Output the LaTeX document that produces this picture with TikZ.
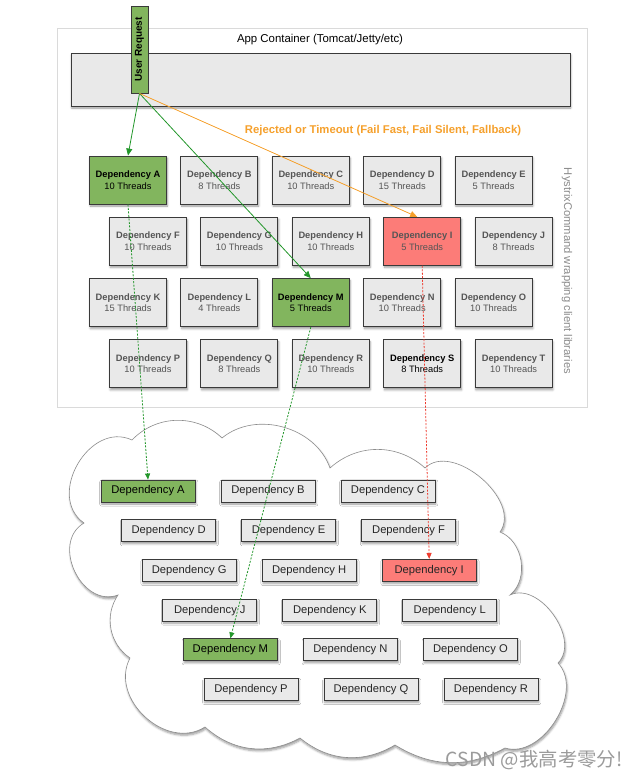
\documentclass[tikz,border=0pt]{standalone}
\usepackage{fontspec}
\setmainfont{Liberation Sans}
\newfontfamily\cjkfont{Noto Sans CJK SC}
\usetikzlibrary{arrows.meta, shadows.blur}
\definecolor{hGreen}{HTML}{82B55E}
\definecolor{hRed}{HTML}{FC7C78}
\definecolor{hGray}{HTML}{E9E9E9}
\definecolor{hBorder}{HTML}{3A3A3A}
\definecolor{hText}{HTML}{555555}
\definecolor{hLine}{HTML}{22962A}
\definecolor{hOrange}{HTML}{F5A02C}
\definecolor{hDash}{HTML}{EE3B2E}
\definecolor{hFrame}{HTML}{DADADA}
\definecolor{hSide}{HTML}{8A8A8A}
\definecolor{hMark}{HTML}{9B9B9B}

\tikzset{
  soft/.style={blur shadow={shadow xshift=0.8pt, shadow yshift=-2pt, shadow blur steps=5}},
  pool/.style={draw=hBorder, line width=0.9pt, fill=hGray, minimum width=77pt, minimum height=48pt,
    inner sep=0pt, align=center, text=hText, font=\fontsize{9.3}{11.5}\selectfont, soft},
  dep/.style={draw=hBorder, line width=0.9pt, fill=hGray, minimum width=94pt, minimum height=22pt,
    inner sep=0pt, text=black!85, font=\fontsize{11.2}{13}\selectfont, soft},
  hot/.style={fill=hGreen, text=black},
  stA/.style=hot, stM/.style=hot, stI/.style={fill=hRed}, stS/.style={text=black},
  clA/.style=hot, clM/.style=hot, clI/.style={fill=hRed},
  flow/.style={-{Triangle[length=7pt,width=6pt]}, hLine, line width=0.8pt},
  drop/.style={-{Triangle[length=6pt,width=5pt]}, hLine, line width=0.8pt, dashed, dash pattern=on 2pt off 1.5pt}
}

\begin{document}
\begin{tikzpicture}[x=1pt, y=-1pt]
    \useasboundingbox (0,0) rectangle (640,779);
    \node[draw=hFrame, line width=0.8pt, minimum width=530pt, minimum height=379pt] (app) at (322,217.5) {};
    \node[font=\fontsize{11.4}{13}\selectfont] (apptitle) at (320,40) {App Container (Tomcat/Jetty/etc)};
    \node[draw=hBorder, line width=0.9pt, fill=hGray, minimum width=499pt, minimum height=53pt, soft] (bar) at (320.5,79.5) {};
    \node[draw=hBorder, line width=0.9pt, fill=hGreen, rotate=90, minimum width=87pt, minimum height=17pt,
      inner sep=0pt, font=\bfseries\fontsize{10}{11}\selectfont] (req) at (139.5,49.5) {User Request};
    \node[text=hOrange, font=\bfseries\fontsize{11.3}{13}\selectfont] (reject) at (383,131) {Rejected or Timeout (Fail Fast, Fail Silent, Fallback)};
    \node[rotate=-90, text=hSide, font=\fontsize{11.2}{13}\selectfont] (side) at (567,271) {HystrixCommand wrapping client libraries};
    \foreach \l/\n [count=\i from 0] in {A/10,B/8,C/10,D/15,E/5,F/10,G/10,H/10,I/5,J/8,K/15,L/4,M/5,N/10,O/10,P/10,Q/8,R/10,S/8,T/10} {
      \pgfmathtruncatemacro\rw{\i/5}
      \pgfmathtruncatemacro\cl{mod(\i,5)}
      \pgfmathsetmacro\sh{mod(\rw,2)*20}
      \node[pool, st\l/.try] (t\l) at (128+\cl*91.4+\sh, 180+\rw*61.3) {\textbf{Dependency \l}\\\n\ Threads};
    }
    \draw[draw=black!45, line width=0.6pt, fill=white, soft]
      (84,523) to[bend left=85, looseness=1.25] (132,440) to[bend left=45] (222,438) to[bend left=55] (330,468)
      to[bend left=42] (425,468) to[bend left=85] (500,532) to[bend left=60] (510,595)
      to[bend left=80] (558,663) to[bend left=75] (505,748) to[bend left=30] (395,745)
      to[bend left=35] (300,738) to[bend left=35] (205,727) to[bend left=75, looseness=1.15] (130,658)
      to[bend left=45] (118,595) to[bend left=85, looseness=1.25] (84,523) -- cycle;
    \foreach \l [count=\i from 0] in {A,...,R} {
      \pgfmathtruncatemacro\rw{\i/3}
      \pgfmathtruncatemacro\cl{mod(\i,3)}
      \node[dep, cl\l/.try] (c\l) at (148+\cl*120+\rw*20.6, 491+\rw*39.7) {Dependency \l};
    }
    \draw[flow] (req.west) -- (tA.north);
    \draw[flow] (req.west) -- (tM.north);
    \draw[flow, hOrange] (req.west) -- ([xshift=-5pt]tI.north);
    \draw[drop] (tA.south) -- (cA.north);
    \draw[drop] (tM.south) -- (cM.north);
    \draw[drop, hDash] (tI.south) -- (cI.north);
    \node[anchor=east, text=hMark, font=\cjkfont\fontsize{19.4}{21}\selectfont] (mark) at (626,760) {CSDN @我高考零分!};
\end{tikzpicture}
\end{document}
